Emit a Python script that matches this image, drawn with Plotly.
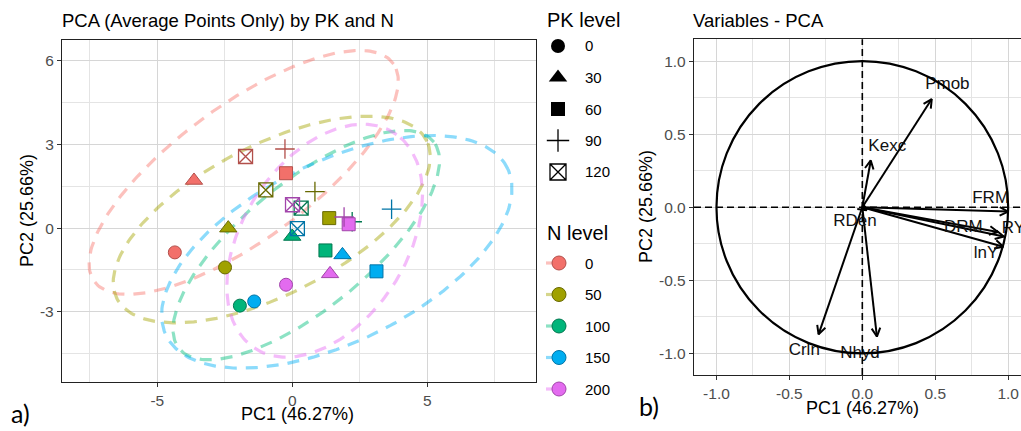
import numpy as np
import plotly.graph_objects as go

W, H = 1021, 431

# ---------------- data ----------------
pk_levels = ["0", "30", "60", "90", "120"]
n_levels = ["0", "50", "100", "150", "200"]

# Average PCA scores per N level, ordered by PK level (0, 30, 60, 90, 120)
pc1_n0 = [-4.35, -3.64, -0.23, -0.27, -1.73]
pc2_n0 = [-0.87, 1.71, 1.97, 2.84, 2.57]
pc1_n50 = [-2.49, -2.37, 1.37, 0.84, -0.98]
pc2_n50 = [-1.41, 0.00, 0.36, 1.31, 1.37]
pc1_n100 = [-1.94, 0.00, 1.23, 2.22, 0.33]
pc2_n100 = [-2.78, -0.30, -0.80, 0.23, 0.72]
pc1_n150 = [-1.41, 1.86, 3.12, 3.68, 0.19]
pc2_n150 = [-2.63, -0.96, -1.55, 0.68, -0.02]
pc1_n200 = [-0.23, 1.40, 2.09, 1.92, 0.01]
pc2_n200 = [-2.03, -1.64, 0.14, 0.40, 0.84]

# Confidence ellipses per N level: centre, semi-axes, rotation (deg)
ell_cx = [-1.80, -0.76, 0.52, 1.65, 1.20]
ell_cy = [2.00, 0.31, -0.61, -0.85, -0.45]
ell_a = [6.78, 6.40, 6.00, 7.00, 4.65]
ell_b = [2.45, 2.70, 2.30, 3.25, 3.00]
ell_ang = [35, 26, 38, 25, 55]

# Variable loadings (correlation circle)
var_names = ["Pmob", "Kexc", "FRM", "RY", "DRM", "lnY", "RDen", "Crln", "Nhyd"]
var_pc1 = [0.476, 0.058, 1.000, 0.970, 0.930, 0.967, 0.030, -0.300, 0.100]
var_pc2 = [0.740, 0.320, -0.030, -0.200, -0.170, -0.270, -0.020, -0.870, -0.885]
var_lab_x = [0.583, 0.171, 0.880, 1.036, 0.693, 0.848, -0.050, -0.398, -0.016]
var_lab_y = [0.837, 0.415, 0.057, -0.150, -0.139, -0.320, -0.098, -0.980, -1.000]

left_xticks = [-5, 0, 5]
left_xticklabels = ["-5", "0", "5"]
left_yticks = [-3, 0, 3, 6]
left_yticklabels = ["-3", "0", "3", "6"]
right_ticks = [-1.0, -0.5, 0.0, 0.5, 1.0]
right_ticklabels = ["-1.0", "-0.5", "0.0", "0.5", "1.0"]

# ---------------- style ----------------
FONT = "Liberation Sans, Arial, sans-serif"
n_line = ["rgba(248,118,109,0.45)", "rgba(163,165,0,0.45)", "rgba(0,191,125,0.45)",
          "rgba(0,176,246,0.45)", "rgba(231,107,243,0.45)"]
n_fill = ["#F2706A", "#A0A100", "#00B57A", "#00ADF0", "#E36BEF"]
n_edge = ["#B24F4A", "#686900", "#00774F", "#0074A6", "#A245AB"]
pk_symbols = ["circle", "triangle-up", "square", "cross-thin-open", "square-x-open"]
pk_sizes = [13, 15, 13, 14, 14]

def dom_x(a, b):
    return [a / W, b / W]

def dom_y(top, bottom):
    return [1 - bottom / H, 1 - top / H]

fig = go.Figure()

pc1_all = [pc1_n0, pc1_n50, pc1_n100, pc1_n150, pc1_n200]
pc2_all = [pc2_n0, pc2_n50, pc2_n100, pc2_n150, pc2_n200]

# ellipses
t = np.linspace(0, 2 * np.pi, 240)
for i in range(5):
    th = np.deg2rad(ell_ang[i])
    ex = ell_cx[i] + ell_a[i] * np.cos(t) * np.cos(th) - ell_b[i] * np.sin(t) * np.sin(th)
    ey = ell_cy[i] + ell_a[i] * np.cos(t) * np.sin(th) + ell_b[i] * np.sin(t) * np.cos(th)
    fig.add_trace(go.Scatter(x=ex, y=ey, mode="lines", xaxis="x", yaxis="y",
                             line=dict(color=n_line[i], width=3.2, dash="12px,9px"),
                             showlegend=False, hoverinfo="skip"))

# points
for i in range(5):
    for j in range(5):
        is_open = j >= 3
        fig.add_trace(go.Scatter(
            x=[pc1_all[i][j]], y=[pc2_all[i][j]], mode="markers", xaxis="x", yaxis="y",
            marker=dict(symbol=pk_symbols[j], size=pk_sizes[j],
                        color=n_edge[i] if is_open else n_fill[i],
                        line=dict(color=n_edge[i], width=1.3 if is_open else 1.0)),
            name=f"N {n_levels[i]}, PK {pk_levels[j]}", showlegend=False))

# correlation circle arrows
head_len, head_ang = 0.065, np.deg2rad(27)
ax_x, ax_y = [], []
for xv, yv in zip(var_pc1, var_pc2):
    L = np.hypot(xv, yv)
    ux, uy = xv / L, yv / L
    ax_x += [0, xv, None]
    ax_y += [0, yv, None]
    bx, by = -ux, -uy
    pts = []
    for s in (1, -1):
        c, sn = np.cos(s * head_ang), np.sin(s * head_ang)
        pts.append((xv + head_len * (bx * c - by * sn), yv + head_len * (bx * sn + by * c)))
    ax_x += [pts[0][0], xv, pts[1][0], None]
    ax_y += [pts[0][1], yv, pts[1][1], None]
fig.add_trace(go.Scatter(x=ax_x, y=ax_y, mode="lines", xaxis="x2", yaxis="y2",
                         line=dict(color="black", width=2), showlegend=False, hoverinfo="skip"))
fig.add_trace(go.Scatter(x=var_lab_x, y=var_lab_y, text=var_names, mode="text",
                         xaxis="x2", yaxis="y2", textfont=dict(size=17, color="#111", family=FONT),
                         showlegend=False))

# legend (drawn manually in pixel space on an overlay axis)
pk_leg_y = [46, 77.5, 109, 140.5, 172]
n_leg_y = [263, 294.5, 326, 357.5, 389]
for j in range(5):
    is_open = j >= 3
    fig.add_trace(go.Scatter(x=[558], y=[pk_leg_y[j]], mode="markers", xaxis="x3", yaxis="y3",
                             marker=dict(symbol=pk_symbols[j], size=pk_sizes[j] + (1 if j < 3 else 2),
                                         color="black", line=dict(color="black", width=1.3 if is_open else 0)),
                             showlegend=False, hoverinfo="skip"))
for i in range(5):
    fig.add_trace(go.Scatter(x=[546, 559], y=[n_leg_y[i]] * 2, mode="lines", xaxis="x3", yaxis="y3",
                             line=dict(color=n_line[i], width=3.2), showlegend=False, hoverinfo="skip"))
    fig.add_trace(go.Scatter(x=[559], y=[n_leg_y[i]], mode="markers", xaxis="x3", yaxis="y3",
                             marker=dict(symbol="circle", size=14, color=n_fill[i],
                                         line=dict(color=n_edge[i], width=1)),
                             showlegend=False, hoverinfo="skip"))

annotations = []
def ann(text, x, y, size, xanchor="left", color="black", angle=0, family=FONT):
    annotations.append(dict(text=text, x=x / W, y=1 - y / H, xref="paper", yref="paper",
                            xanchor=xanchor, yanchor="middle", showarrow=False, textangle=angle,
                            font=dict(size=size, color=color, family=family)))

ann("PK level", 545, 20, 20)
ann("N level", 545, 233, 20)
for j in range(5):
    ann(pk_levels[j], 583, pk_leg_y[j], 15)
for i in range(5):
    ann(n_levels[i], 583, n_leg_y[i], 15)

ann("PCA (Average Points Only) by PK and N", 60, 20, 18.5)
ann("Variables - PCA", 691, 20, 18.5)
ann("PC1 (46.27%)", 297, 414, 18, xanchor="center")
ann("PC2 (25.66%)", 27, 211, 18, xanchor="center", angle=-90)
ann("PC1 (46.27%)", 862, 408, 18, xanchor="center")
ann("PC2 (25.66%)", 646, 207, 18, xanchor="center", angle=-90)
ann("a)", 9, 413, 25, family="Lato, Open Sans, sans-serif")
ann("b)", 637, 406, 25, family="Lato, Open Sans, sans-serif")

grid_major = "#D6D6D6"
grid_minor = "#E4E4E4"
axis_common = dict(showline=True, linecolor="#222222", linewidth=1.3, ticks="outside",
                   ticklen=4, tickcolor="#333333", tickwidth=1, zeroline=False,
                   showgrid=True, gridcolor=grid_major, gridwidth=1.1,
                   tickfont=dict(size=15.5, color="#4D4D4D", family=FONT), fixedrange=True)

fig.update_layout(
    width=W, height=H, margin=dict(l=0, r=0, t=0, b=0),
    paper_bgcolor="white", plot_bgcolor="rgba(0,0,0,0)", showlegend=False,
    xaxis=dict(domain=dom_x(62, 536), range=[-8.53, 9.03], tickvals=left_xticks,
               ticktext=left_xticklabels, mirror=True, anchor="y",
               minor=dict(tickvals=[-7.5, -2.5, 2.5, 7.5], showgrid=True, gridcolor=grid_minor,
                          gridwidth=0.8, ticks=""), **axis_common),
    yaxis=dict(domain=dom_y(40, 382), range=[-5.52, 6.75], tickvals=left_yticks,
               ticktext=left_yticklabels, mirror=True, anchor="x",
               minor=dict(tickvals=[-4.5, -1.5, 1.5, 4.5], showgrid=True, gridcolor=grid_minor,
                          gridwidth=0.8, ticks=""), **axis_common),
    xaxis2=dict(domain=dom_x(694, 1021), range=[-1.154, 1.088], tickvals=right_ticks,
                ticktext=right_ticklabels, mirror=True, anchor="y2",
                minor=dict(tickvals=[-0.75, -0.25, 0.25, 0.75], showgrid=True, gridcolor=grid_minor,
                           gridwidth=0.8, ticks=""), **axis_common),
    yaxis2=dict(domain=dom_y(39.3, 375), range=[-1.148, 1.149], tickvals=right_ticks,
                ticktext=right_ticklabels, mirror=False, anchor="x2",
                minor=dict(tickvals=[-0.75, -0.25, 0.25, 0.75], showgrid=True, gridcolor=grid_minor,
                           gridwidth=0.8, ticks=""), **axis_common),
    xaxis3=dict(domain=[0, 1], range=[0, W], visible=False, fixedrange=True, anchor="y3"),
    yaxis3=dict(domain=[0, 1], range=[H, 0], visible=False, fixedrange=True, anchor="x3"),
    annotations=annotations,
    shapes=[
        dict(type="circle", xref="x2", yref="y2", x0=-1, x1=1, y0=-1, y1=1,
             line=dict(color="black", width=2.2), layer="above"),
        dict(type="line", xref="x2", yref="y2 domain", x0=0, x1=0, y0=0, y1=1,
             line=dict(color="black", width=1.6, dash="7px,4px"), layer="above"),
        dict(type="line", xref="x2 domain", yref="y2", x0=0, x1=1, y0=0, y1=0,
             line=dict(color="black", width=1.6, dash="7px,4px"), layer="above"),
    ],
)

fig.write_html("out.html")
